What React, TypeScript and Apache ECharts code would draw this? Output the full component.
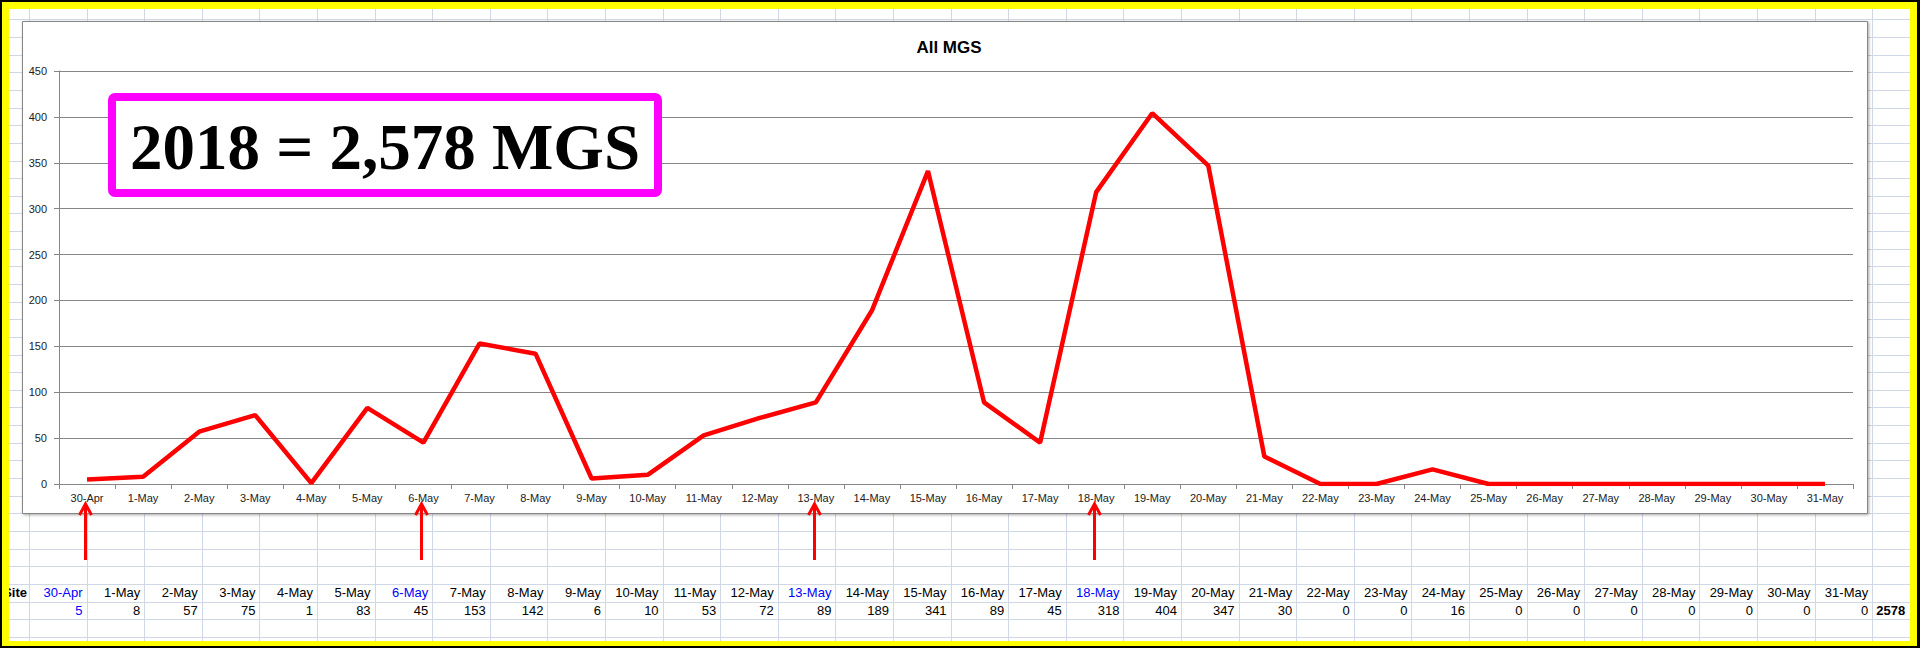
import { useEffect, useRef } from 'react';
import * as echarts from 'echarts';

const chartTitle = 'All MGS';
const totalLabel = '2018 = 2,578 MGS';
const rowLabel = 'Site';
const dates = [
  '30-Apr', '1-May', '2-May', '3-May', '4-May', '5-May', '6-May', '7-May', '8-May', '9-May',
  '10-May', '11-May', '12-May', '13-May', '14-May', '15-May', '16-May', '17-May', '18-May', '19-May',
  '20-May', '21-May', '22-May', '23-May', '24-May', '25-May', '26-May', '27-May', '28-May', '29-May',
  '30-May', '31-May',
];
const counts = [
  5, 8, 57, 75, 1, 83, 45, 153, 142, 6,
  10, 53, 72, 89, 189, 341, 89, 45, 318, 404,
  347, 30, 0, 0, 16, 0, 0, 0, 0, 0,
  0, 0,
];
const markedDates = ['30-Apr', '6-May', '13-May', '18-May'];
const blueValueDates = ['30-Apr'];
const yMin = 0;
const yMax = 450;
const yStep = 50;

export default function App() {
  const ref = useRef<HTMLDivElement>(null);
  useEffect(() => {
    const chart = echarts.init(ref.current!, null, { renderer: 'svg' });
    const axisColor = '#868686';
    const base: any = {
      animation: false,
      title: {
        text: chartTitle,
        left: 944,
        top: 34,
        textAlign: 'center',
        textStyle: { fontFamily: 'Arial, "Liberation Sans", sans-serif', fontSize: 17, fontWeight: 'bold', color: '#000' },
      },
      grid: { left: 59, top: 71, right: 76, bottom: 164, containLabel: false },
      xAxis: {
        type: 'category',
        data: dates,
        boundaryGap: true,
        axisLine: { show: true, lineStyle: { color: axisColor, width: 1 } },
        axisTick: { show: true, interval: 0, length: 5, lineStyle: { color: axisColor } },
        axisLabel: { interval: 0, margin: 8, fontSize: 11, color: '#222', fontFamily: 'Arial, "Liberation Sans", sans-serif' },
        splitLine: { show: false },
      },
      yAxis: {
        type: 'value',
        min: yMin,
        max: yMax,
        interval: yStep,
        axisLine: { show: true, lineStyle: { color: axisColor, width: 1 } },
        axisTick: { show: true, length: 5, lineStyle: { color: axisColor } },
        axisLabel: { margin: 12, fontSize: 11, color: '#222', fontFamily: 'Arial, "Liberation Sans", sans-serif' },
        splitLine: { show: true, lineStyle: { color: axisColor, width: 1 } },
      },
      series: [
        {
          type: 'line',
          data: counts,
          symbol: 'none',
          lineStyle: { color: '#ff0000', width: 4.5 },
          itemStyle: { color: '#ff0000' },
          z: 5,
        },
      ],
    };
    chart.setOption(base);

    const els: any[] = [];
    // spreadsheet grid
    const colX0 = 29;
    const colW = 57.6;
    const rowY0 = 19.4;
    const rowH = 17.64;
    const gridColor = '#d0d7e5';
    for (let k = 0; k <= 33; k++) {
      const x = Math.round(colX0 + k * colW) + 0.5;
      els.push({ type: 'line', silent: true, z: -20, shape: { x1: x, y1: 9, x2: x, y2: 641 }, style: { stroke: gridColor, lineWidth: 1 } });
    }
    for (let k = 0; k <= 35; k++) {
      const y = Math.round(rowY0 + k * rowH) + 0.5;
      els.push({ type: 'line', silent: true, z: -20, shape: { x1: 9, y1: y, x2: 1920, y2: y }, style: { stroke: gridColor, lineWidth: 1 } });
    }
    // chart area box
    els.push({
      type: 'rect', silent: true, z: -10,
      shape: { x: 22.5, y: 21.5, width: 1845, height: 492 },
      style: { fill: '#fff', stroke: '#868686', lineWidth: 1, shadowColor: 'rgba(0,0,0,0.35)', shadowBlur: 3, shadowOffsetX: 1, shadowOffsetY: 1 },
    });

    // table
    const font = '13px Arial, "Liberation Sans", sans-serif';
    const boldFont = 'bold 13px Arial, "Liberation Sans", sans-serif';
    const headY = rowY0 + 32.5 * rowH;
    const valY = rowY0 + 33.5 * rowH;
    els.push({ type: 'text', silent: true, z: 1, x: 27, y: headY, style: { text: rowLabel, font: boldFont, fill: '#000', align: 'right', verticalAlign: 'middle', textAlign: 'right', textVerticalAlign: 'middle' } });
    dates.forEach((d, i) => {
      const rx = colX0 + (i + 1) * colW - 4;
      const hc = markedDates.includes(d) ? '#0000ff' : '#000';
      const vc = blueValueDates.includes(d) ? '#0000ff' : '#000';
      els.push({ type: 'text', silent: true, z: 1, x: rx, y: headY, style: { text: d, font, fill: hc, align: 'right', verticalAlign: 'middle', textAlign: 'right', textVerticalAlign: 'middle' } });
      els.push({ type: 'text', silent: true, z: 1, x: rx, y: valY, style: { text: String(counts[i]), font, fill: vc, align: 'right', verticalAlign: 'middle', textAlign: 'right', textVerticalAlign: 'middle' } });
    });
    const total = counts.reduce((a, b) => a + b, 0);
    els.push({ type: 'text', silent: true, z: 1, x: colX0 + 32 * colW + 4, y: valY, style: { text: String(total), font: boldFont, fill: '#000', align: 'left', verticalAlign: 'middle', textAlign: 'left', textVerticalAlign: 'middle' } });

    // magenta annotation box
    els.push({
      type: 'rect', silent: true, z: 20,
      shape: { x: 112, y: 97, width: 546, height: 96, r: 3 },
      style: { fill: '#fff', stroke: '#ff00ff', lineWidth: 8 },
    });
    els.push({
      type: 'text', silent: true, z: 21, x: 385, y: 147,
      style: { text: totalLabel, font: 'bold 65px "Liberation Serif", "Times New Roman", serif', fill: '#000', align: 'center', verticalAlign: 'middle', textAlign: 'center', textVerticalAlign: 'middle' },
    });

    // arrows
    markedDates.forEach((d) => {
      const x = Math.round(chart.convertToPixel({ xAxisIndex: 0 }, d) as number) - 1.5;
      els.push({ type: 'line', silent: true, z: 22, shape: { x1: x, y1: 560, x2: x, y2: 505 }, style: { stroke: '#ff0000', lineWidth: 3 } });
      els.push({ type: 'polyline', silent: true, z: 22, shape: { points: [[x - 6, 515], [x, 504], [x + 6, 515]] }, style: { stroke: '#ff0000', lineWidth: 3, fill: 'none' } });
    });

    // frame
    const black = '#000';
    const yellow = '#ffff00';
    const frame = [
      { x: 1920, y: 0, width: 9, height: 648, fill: '#fff' },
      { x: 2, y: 2, width: 1915, height: 7, fill: yellow },
      { x: 2, y: 2, width: 7, height: 644, fill: yellow },
      { x: 1910, y: 2, width: 7, height: 644, fill: yellow },
      { x: 2, y: 641, width: 1915, height: 5, fill: yellow },
      { x: 0, y: 0, width: 1920, height: 2, fill: black },
      { x: 0, y: 0, width: 2, height: 648, fill: black },
      { x: 1917, y: 0, width: 3, height: 648, fill: black },
      { x: 0, y: 646, width: 1920, height: 2, fill: black },
    ];
    frame.forEach((f) => {
      els.push({ type: 'rect', silent: true, z: 30, shape: { x: f.x, y: f.y, width: f.width, height: f.height }, style: { fill: f.fill } });
    });

    chart.setOption({ graphic: { elements: els } });
    return () => chart.dispose();
  }, []);
  return <div ref={ref} style={{ position: 'absolute', left: 0, top: 0, width: 1929, height: 648 }} />;
}
